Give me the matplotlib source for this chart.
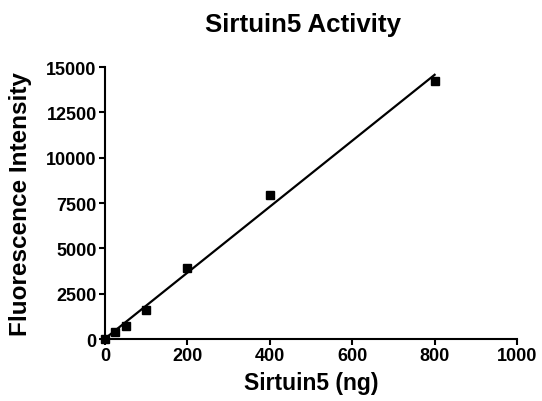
import numpy as np
import matplotlib
matplotlib.use("Agg")
import matplotlib.pyplot as plt

plt.rcParams['font.family'] = ['Liberation Sans', 'DejaVu Sans']
plt.rcParams['font.weight'] = 'bold'

sirt_ng = [0, 25, 50, 100, 200, 400, 800]
fluor = [0, 380, 720, 1600, 3920, 7940, 14230]

x_ticks = [0, 200, 400, 600, 800, 1000]
y_ticks = [0, 2500, 5000, 7500, 10000, 12500, 15000]

# linear fit through the measured points
slope, intercept = np.polyfit(sirt_ng, fluor, 1)
fit_x = np.array([min(sirt_ng), max(sirt_ng)])
fit_y = slope * fit_x + intercept

fig = plt.figure(figsize=(5.42, 4.02), dpi=100)
ax = fig.add_axes([0.1937, 0.1542, 0.7602, 0.6766])

ax.plot(fit_x, fit_y, color='black', lw=1.6, clip_on=False)
ax.plot(sirt_ng, fluor, 's', color='black', markersize=5.8, clip_on=False)

ax.set_xlim(0, 1000)
ax.set_ylim(0, 15000)
ax.set_xticks(x_ticks)
ax.set_yticks(y_ticks)
ax.tick_params(labelsize=13, width=1.5, length=4, direction='out', pad=2)

for side in ['top', 'right']:
    ax.spines[side].set_visible(False)
for side in ['left', 'bottom']:
    ax.spines[side].set_linewidth(1.5)

ax.set_xlabel("Sirtuin5 (ng)", fontsize=16.5, fontweight='bold', labelpad=5)
ax.set_ylabel("Fluorescence Intensity", fontsize=17.5, fontweight='bold', labelpad=10)
ax.set_title("Sirtuin5 Activity", fontsize=18.6, fontweight='bold', pad=26, x=0.48)

fig.savefig("out.png", dpi=100)
